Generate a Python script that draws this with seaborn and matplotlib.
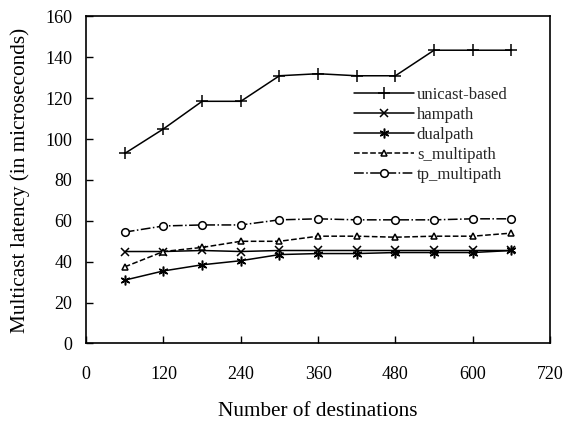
import matplotlib
matplotlib.use("Agg")
import matplotlib.pyplot as plt
import seaborn as sns
import pandas as pd

destinations = [60, 120, 180, 240, 300, 360, 420, 480, 540, 600, 660]
unicast_based = [93, 105, 118.5, 118.5, 131, 132, 131, 131, 143.5, 143.5, 143.5]
hampath = [45, 45, 45.5, 45, 45.5, 45.5, 45.5, 45.5, 45.5, 45.5, 45.5]
dualpath = [31, 35.5, 38.5, 40.5, 43.5, 44, 44, 44.5, 44.5, 44.5, 45.5]
s_multipath = [37.5, 45, 47, 50, 50, 52.5, 52.5, 52, 52.5, 52.5, 54]
tp_multipath = [54.5, 57.5, 58, 58, 60.5, 61, 60.5, 60.5, 60.5, 61, 61]

x_ticks = [0, 120, 240, 360, 480, 600, 720]
y_ticks = [0, 20, 40, 60, 80, 100, 120, 140, 160]

series = [
    ("unicast-based", unicast_based, "+", "-", None, 8),
    ("hampath", hampath, "x", "-", None, 6),
    ("dualpath", dualpath, (6, 2, 0), "-", None, 7),
    ("s_multipath", s_multipath, "^", "--", (2.2, 2.8), 5),
    ("tp_multipath", tp_multipath, "o", "-.", (7, 3, 2, 3), 5.5),
]

sns.set_theme(style="ticks")
plt.rcParams["font.family"] = ["Liberation Serif", "DejaVu Serif"]
plt.rcParams["font.size"] = 13

fig = plt.figure(figsize=(5.63, 4.23), dpi=100)
ax = fig.add_axes([0.153, 0.188, 0.824, 0.773])

for name, vals, mk, ls, dash, ms in series:
    df = pd.DataFrame({"x": destinations, "y": vals})
    kw = dict(color="black", linewidth=1.1, marker=mk, markersize=ms,
              markerfacecolor="white", markeredgecolor="black",
              markeredgewidth=1.1, label=name, linestyle=ls)
    if dash is not None:
        kw["dashes"] = dash
    sns.lineplot(data=df, x="x", y="y", ax=ax, **kw)

ax.set_xlim(0, 720)
ax.set_ylim(0, 160)
ax.set_xticks(x_ticks)
ax.set_yticks(y_ticks)
ax.tick_params(direction="in", length=5, width=1, colors="black",
               labelsize=13, top=False, right=False)
ax.tick_params(axis="x", pad=16)
ax.tick_params(axis="y", pad=10)
for s in ax.spines.values():
    s.set_color("black")
    s.set_linewidth(1.2)
ax.set_xlabel("Number of destinations", fontsize=15.3, labelpad=14, color="black")
ax.set_ylabel("Multicast latency (in microseconds)", fontsize=15.3, labelpad=11, color="black")

leg = ax.legend(loc="upper left", bbox_to_anchor=(0.562, 0.806), frameon=False,
                fontsize=12, handlelength=3.6, handletextpad=0.2,
                labelspacing=0.24, borderaxespad=0)

fig.savefig("out.png", dpi=100)
